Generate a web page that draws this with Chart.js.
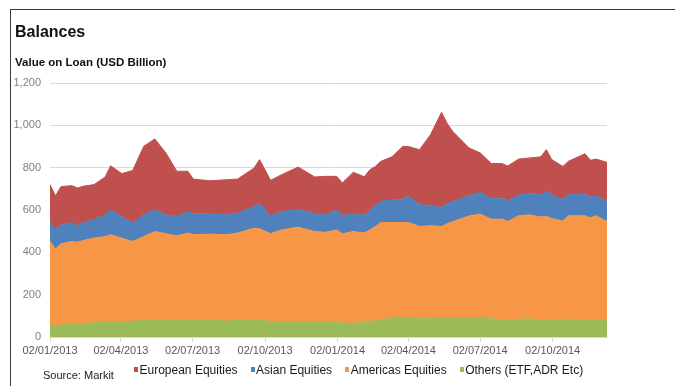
<!DOCTYPE html>
<html>
<head>
<meta charset="utf-8">
<title>Balances</title>
<script src="https://cdn.jsdelivr.net/npm/chart.js@4.4.1/dist/chart.umd.min.js"></script>
<style>
  body { margin: 0; background: #fff; font-family: "Liberation Sans", Arial, sans-serif; }
  #wrap { position: relative; width: 675px; height: 386px; overflow: hidden; }
  #frame { position: absolute; left: 10px; top: 9px; right: -20px; bottom: -20px;
           border-top: 1px solid #3a3a3a; border-left: 1px solid #3a3a3a; }
  canvas { position: absolute; left: 0; top: 0; }
  .title { position: absolute; left: 15px; top: 24px; font-size: 16px; line-height: 16px; font-weight: bold; color: #111; }
  .subtitle { position: absolute; left: 15px; top: 56px; font-size: 11.5px; line-height: 12px; font-weight: bold; color: #111; }
  .source { position: absolute; left: 43px; top: 369px; font-size: 11px; line-height: 13px; color: #222; }
  #legend { position: absolute; left: 134px; top: 364px; display: flex; font-size: 12px; line-height: 13px; color: #1a1a1a; white-space: nowrap; }
  #legend .item { display: flex; align-items: flex-start; margin-right: 13px; }
  #legend i { display: block; width: 4px; height: 5px; margin-top: 3px; margin-right: 1.5px; }
</style>
</head>
<body>
<div id="wrap">
  <div id="frame"></div>
  <canvas id="chart" width="675" height="386"></canvas>
  <div class="title">Balances</div>
  <div class="subtitle">Value on Loan (USD Billion)</div>
  <div class="source">Source: Markit</div>
  <div id="legend"></div>
</div>
<script>
// x axis labels (dd/mm/yyyy), one per quarter
const tickLabels = ['02/01/2013', '02/04/2013', '02/07/2013', '02/10/2013',
                    '02/01/2014', '02/04/2014', '02/07/2014', '02/10/2014'];

// sample dates as weeks after 02/01/2013
const weekNo = [0, 1, 2, 4, 5, 6, 8, 10, 11, 13, 15, 17, 19, 21, 23, 25, 26, 29, 32, 34,
                37, 38, 40, 42, 45, 48, 50, 52, 53, 55, 57, 58, 59, 60, 62, 64, 65, 67, 69, 71,
                72, 73, 76, 78, 80, 82, 83, 85, 87, 89, 90, 91, 93, 94, 97, 98, 99, 101];

// value on loan, USD bn
const others = [54, 55, 56, 60, 62, 63, 68, 70, 72, 74, 74, 78, 80, 80, 80, 82, 83, 80, 75, 80,
                83, 82, 72, 72, 73, 72, 70, 70, 66, 66, 68, 72, 78, 82, 88, 93, 92, 86, 87, 88,
                88, 88, 88, 88, 86, 82, 80, 84, 85, 82, 80, 80, 77, 85, 80, 77, 77, 77];
const americas = [397, 361, 384, 391, 386, 393, 399, 405, 411, 393, 377, 397, 418, 408, 398, 409, 400, 406, 408, 411,
                  431, 430, 416, 434, 446, 426, 425, 436, 422, 432, 423, 433, 444, 459, 453, 448, 449, 436, 439, 434,
                  447, 457, 484, 493, 471, 475, 466, 489, 492, 485, 489, 480, 471, 488, 493, 485, 496, 469];
const asian = [95, 90, 90, 89, 77, 85, 87, 102, 118, 102, 87, 102, 103, 89, 91, 102, 99, 96, 94, 94,
               103, 118, 85, 87, 85, 84, 82, 95, 86, 84, 84, 95, 98, 100, 107, 111, 126, 103, 94, 90,
               95, 95, 96, 102, 99, 99, 98, 97, 103, 105, 119, 112, 101, 99, 104, 98, 94, 95];
const european = [174, 161, 181, 175, 179, 171, 166, 179, 208, 203, 249, 324, 335, 293, 214, 190, 164, 156, 166, 161,
                  181, 208, 167, 174, 199, 174, 182, 158, 154, 196, 182, 190, 186, 189, 203, 249, 233, 260, 336, 450,
                  380, 332, 225, 187, 164, 163, 164, 171, 166, 179, 197, 166, 157, 158, 189, 175, 174, 184];

const yTicks = [0, 200, 400, 600, 800, 1000, 1200];

// bottom of the stack first
const series = [
  { name: 'Others (ETF,ADR Etc)', values: others, color: '#9bbb59' },
  { name: 'Americas Equities', values: americas, color: '#f79646' },
  { name: 'Asian Equities', values: asian, color: '#4f81bd' },
  { name: 'European Equities', values: european, color: '#c0504d' }
];

const dayOffset = (label) => {
  const [d, m, y] = label.split('/').map(Number);
  return Math.round((Date.UTC(y, m - 1, d) - Date.UTC(2013, 0, 2)) / 864e5);
};
const tickDays = tickLabels.map(dayOffset);
const lastDay = weekNo[weekNo.length - 1] * 7;

const datasets = series.map((s, i) => ({
  label: s.name,
  data: weekNo.map((w, j) => ({ x: w * 7, y: s.values[j] })),
  backgroundColor: s.color,
  borderColor: s.color,
  borderWidth: 1,
  pointRadius: 0,
  tension: 0,
  fill: i === 0 ? 'origin' : '-1'
}));

// legend reads top of stack first
const legend = document.getElementById('legend');
series.slice().reverse().forEach((s) => {
  const item = document.createElement('span');
  item.className = 'item';
  const box = document.createElement('i');
  box.style.background = s.color;
  item.appendChild(box);
  item.appendChild(document.createTextNode(s.name));
  legend.appendChild(item);
});

const tickFont = { family: '"Liberation Sans", Arial, sans-serif', size: 11 };

new Chart(document.getElementById('chart'), {
  type: 'line',
  data: { datasets },
  options: {
    responsive: false,
    animation: false,
    devicePixelRatio: 1,
    locale: 'en-US',
    layout: { padding: { top: 83, right: 68, left: 0, bottom: 0 } },
    plugins: { legend: { display: false }, tooltip: { enabled: false } },
    scales: {
      x: {
        type: 'linear',
        min: 0,
        max: lastDay,
        afterBuildTicks: (axis) => { axis.ticks = tickDays.map((v) => ({ value: v })); },
        afterFit: (axis) => { axis.height = 49; },
        grid: { drawOnChartArea: false, drawTicks: true, tickLength: 5, color: '#d9d9d9' },
        border: { color: '#d9d9d9' },
        ticks: {
          autoSkip: false,
          maxRotation: 0,
          padding: 2,
          color: '#595959',
          font: tickFont,
          callback: (value, index) => tickLabels[index]
        }
      },
      y: {
        stacked: true,
        min: 0,
        max: 1200,
        afterBuildTicks: (axis) => { axis.ticks = yTicks.map((v) => ({ value: v })); },
        afterFit: (axis) => { axis.width = 50; },
        grid: { drawTicks: false, color: '#d9d9d9' },
        border: { display: false },
        ticks: { padding: 9, color: '#808080', font: tickFont }
      }
    }
  }
});
</script>
</body>
</html>
